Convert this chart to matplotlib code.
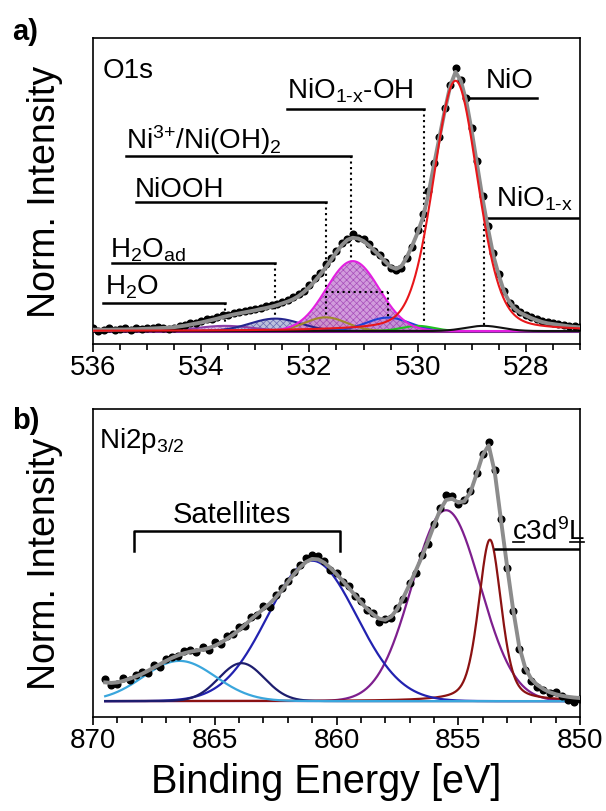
import numpy as np
import matplotlib
matplotlib.use('Agg')
import matplotlib.pyplot as plt
from matplotlib.ticker import MultipleLocator

plt.rcParams['font.family'] = 'Liberation Sans'
plt.rcParams['mathtext.fontset'] = 'custom'
plt.rcParams['mathtext.rm'] = 'Liberation Sans'
plt.rcParams['mathtext.it'] = 'Liberation Sans'
plt.rcParams['mathtext.bf'] = 'Liberation Sans:bold'
plt.rcParams['mathtext.default'] = 'regular'
plt.rcParams['hatch.linewidth'] = 0.5

# ---------------- O1s (panel a) ----------------
o1s_start, o1s_step = 536.0, 0.1
o1s_data = [0.010, 0.000, 0.005, 0.010, 0.003, 0.008, 0.012, 0.005, 0.010, 0.008,
            0.013, 0.010, 0.015, 0.012, 0.008, 0.012, 0.020, 0.025, 0.030, 0.032,
            0.040, 0.045, 0.048, 0.055, 0.060, 0.062, 0.070, 0.072, 0.078, 0.083,
            0.085, 0.090, 0.095, 0.100, 0.105, 0.113, 0.120, 0.130, 0.142, 0.155,
            0.178, 0.205, 0.225, 0.260, 0.280, 0.310, 0.340, 0.355, 0.375, 0.360,
            0.355, 0.335, 0.310, 0.295, 0.265, 0.245, 0.235, 0.245, 0.280, 0.325,
            0.390, 0.450, 0.540, 0.650, 0.750, 0.860, 0.950, 1.015, 0.970, 0.900,
            0.785, 0.655, 0.520, 0.405, 0.300, 0.220, 0.155, 0.110, 0.090, 0.075,
            0.060, 0.055, 0.045, 0.040, 0.035, 0.030, 0.026, 0.022, 0.020, 0.018,
            0.015]
o1s_fit = [0.005, 0.005, 0.005, 0.005, 0.006, 0.006, 0.006, 0.007, 0.007, 0.008,
           0.009, 0.010, 0.011, 0.012, 0.013, 0.015, 0.018, 0.021, 0.025, 0.029,
           0.033, 0.038, 0.043, 0.048, 0.054, 0.059, 0.064, 0.068, 0.072, 0.076,
           0.080, 0.085, 0.089, 0.094, 0.100, 0.107, 0.114, 0.123, 0.135, 0.151,
           0.170, 0.193, 0.218, 0.245, 0.275, 0.305, 0.332, 0.352, 0.360, 0.357,
           0.347, 0.330, 0.310, 0.290, 0.268, 0.248, 0.240, 0.250, 0.285, 0.330,
           0.380, 0.440, 0.530, 0.640, 0.745, 0.850, 0.945, 1.000, 0.965, 0.885,
           0.770, 0.640, 0.510, 0.395, 0.290, 0.215, 0.150, 0.110, 0.085, 0.070,
           0.060, 0.050, 0.042, 0.035, 0.030, 0.027, 0.024, 0.021, 0.018, 0.016,
           0.014]
o1s_be = o1s_start - o1s_step * np.arange(len(o1s_data))

# fitted components: centre [eV], FWHM [eV], height, lorentzian fraction
o1s_names = ['H2O', 'H2Oad', 'NiOOH', 'Ni3+/Ni(OH)2', 'comp5305', 'NiO1-x-OH', 'NiO', 'NiO1-x']
o1s_center = [533.56, 532.63, 531.70, 531.20, 530.55, 530.00, 529.30, 528.78]
o1s_fwhm = [1.20, 1.10, 0.90, 1.15, 0.95, 0.70, 0.97, 0.80]
o1s_height = [0.020, 0.048, 0.053, 0.270, 0.052, 0.020, 0.966, 0.020]
o1s_eta = [0.0, 0.0, 0.0, 0.0, 0.0, 0.0, 0.25, 0.0]

# ---------------- Ni2p3/2 (panel b) ----------------
ni_start, ni_step = 869.5, 0.25
ni_data = [0.085, 0.062, 0.068, 0.090, 0.082, 0.100, 0.112, 0.110, 0.140, 0.135,
           0.165, 0.172, 0.178, 0.195, 0.200, 0.190, 0.210, 0.200, 0.230, 0.222,
           0.255, 0.262, 0.290, 0.295, 0.330, 0.335, 0.372, 0.368, 0.415, 0.440,
           0.470, 0.505, 0.530, 0.560, 0.570, 0.565, 0.545, 0.510, 0.500, 0.465,
           0.450, 0.410, 0.390, 0.355, 0.345, 0.310, 0.320, 0.325, 0.365, 0.400,
           0.460, 0.500, 0.570, 0.615, 0.690, 0.755, 0.805, 0.800, 0.770, 0.785,
           0.820, 0.890, 0.965, 1.010, 0.900, 0.710, 0.520, 0.350, 0.205, 0.120,
           0.080, 0.055, 0.045, 0.030, 0.035, 0.020, 0.005, -0.005, 0.010]
ni_fit = [0.073, 0.071, 0.073, 0.079, 0.087, 0.096, 0.106, 0.118, 0.131, 0.144,
          0.157, 0.169, 0.179, 0.187, 0.193, 0.197, 0.201, 0.207, 0.216, 0.228,
          0.243, 0.259, 0.277, 0.298, 0.320, 0.340, 0.360, 0.380, 0.404, 0.432,
          0.464, 0.495, 0.522, 0.543, 0.555, 0.553, 0.540, 0.520, 0.496, 0.470,
          0.443, 0.414, 0.386, 0.360, 0.339, 0.322, 0.317, 0.330, 0.360, 0.405,
          0.455, 0.508, 0.562, 0.622, 0.685, 0.745, 0.785, 0.790, 0.775, 0.780,
          0.815, 0.885, 0.960, 0.998, 0.893, 0.710, 0.530, 0.360, 0.215, 0.130,
          0.086, 0.063, 0.047, 0.035, 0.027, 0.021, 0.017, 0.014, 0.012]
ni_be = ni_start - ni_step * np.arange(len(ni_data))

ni_center = [855.50, 853.70, 861.00, 863.90, 866.45]
ni_fwhm = [3.30, 1.10, 4.30, 2.20, 3.50]
ni_height = [0.745, 0.630, 0.548, 0.148, 0.157]
ni_eta = [0.0, 0.4, 0.0, 0.0, 0.0]


def pv(e, c, w, h, eta):
    g = np.exp(-4 * np.log(2) * ((e - c) / w) ** 2)
    l = 1.0 / (1 + 4 * ((e - c) / w) ** 2)
    return h * ((1 - eta) * g + eta * l)


fig = plt.figure(figsize=(6.06, 8.12), dpi=100)
ax1 = fig.add_axes([93 / 606, 1 - 345 / 812, 487 / 606, 306 / 812])
ax2 = fig.add_axes([93 / 606, 1 - 718 / 812, 487 / 606, 308 / 812])

# ---- panel a ----
e1 = np.linspace(536, 527, 900)
line_cols = ['#8a3fa8', '#25258f', '#a08a2a', '#e21fe0', '#2040d8', '#22c022', '#e8161a', '#111111']
fill_cols = ['#d7b4de', '#b0b6d6', '#d6cf78', '#c98ad6', '#93bccb', '#7ae07a', None, None]
hatch_cols = ['#9a60b8', '#5a5aa8', '#a09030', '#a040b4', '#4a70a0', '#30b030', None, None]
order = [0, 1, 2, 4, 5, 3, 7, 6]
for i in order:
    y = pv(e1, o1s_center[i], o1s_fwhm[i], o1s_height[i], o1s_eta[i])
    if fill_cols[i] is not None:
        ax1.fill_between(e1, 0, y, facecolor=fill_cols[i], edgecolor=hatch_cols[i],
                         hatch='xxxxx', linewidth=0, alpha=0.85, zorder=2)
    ax1.plot(e1, y, color=line_cols[i], lw=1.5, zorder=3 if i != 6 else 6)
ax1.plot([536, 527], [0, 0], color='#8a1a9a', lw=2.2, zorder=2.5)

ax1.plot(o1s_be, o1s_data, 'o', color='black', ms=4.8, zorder=4)
ax1.plot(o1s_be, o1s_fit, color='#8c8c8c', lw=2.8, zorder=5)

hy = '\u2010'
lab_kw = dict(fontsize=20, ha='left', va='baseline')
ax1.text(535.83, 0.98, 'O1s', **lab_kw)
ax1.text(528.74, 0.942, 'NiO', **lab_kw)
ax1.plot([529.1, 527.8], [0.90, 0.90], color='black', lw=1.8)
ax1.text(528.56, 0.483, 'NiO$_{1' + hy + 'x}$', **lab_kw)
ax1.plot([528.7, 527.04], [0.436, 0.436], color='black', lw=1.8)
ax1.plot([528.78, 528.78], [0.436, 0.02], color='black', lw=1.5, ls=':')
ax1.text(532.41, 0.903, 'NiO$_{1' + hy + 'x}$-OH', **lab_kw)
ax1.plot([532.41, 529.89], [0.857, 0.857], color='black', lw=1.8)
ax1.plot([529.89, 529.89], [0.857, 0.03], color='black', lw=1.5, ls=':')
ax1.text(535.39, 0.707, 'Ni$^{3{+}}$/Ni(OH)$_2$', **lab_kw)
ax1.plot([535.39, 531.24], [0.676, 0.676], color='black', lw=1.8)
ax1.plot([531.24, 531.24], [0.676, 0.27], color='black', lw=1.5, ls=':')
ax1.text(535.22, 0.521, 'NiOOH', **lab_kw)
ax1.plot([535.2, 531.7], [0.498, 0.498], color='black', lw=1.8)
ax1.plot([531.7, 531.7], [0.498, 0.053], color='black', lw=1.5, ls=':')
ax1.text(535.69, 0.286, 'H$_2$O$_{ad}$', **lab_kw)
ax1.plot([535.65, 532.63], [0.261, 0.261], color='black', lw=1.8)
ax1.plot([532.63, 532.63], [0.261, 0.047], color='black', lw=1.5, ls=':')
ax1.text(535.78, 0.143, 'H$_2$O', **lab_kw)
ax1.plot([535.81, 533.56], [0.108, 0.108], color='black', lw=1.8)
ax1.plot([533.56, 533.56], [0.108, 0.02], color='black', lw=1.5, ls=':')
ax1.plot([531.7, 530.55], [0.15, 0.15], color='black', lw=1.5, ls=':', zorder=6)
ax1.plot([530.55, 530.55], [0.15, 0.052], color='black', lw=1.5, ls=':', zorder=6)

ax1.set_xlim(536, 527)
ax1.set_ylim(-0.05, 1.131)
ax1.xaxis.set_major_locator(MultipleLocator(2))
ax1.xaxis.set_minor_locator(MultipleLocator(0.5))

# ---- panel b ----
e2 = np.linspace(869.5, 850, 900)
ni_cols = ['#7e1f8e', '#8b1212', '#2222b0', '#1d1d6e', '#3aa6dc']
for i in range(len(ni_center)):
    ax2.plot(e2, pv(e2, ni_center[i], ni_fwhm[i], ni_height[i], ni_eta[i]),
             color=ni_cols[i], lw=1.6, zorder=3)
ax2.plot(ni_be, ni_data, 'o', color='black', ms=4.8, zorder=4)
ax2.plot(ni_be, ni_fit, color='#8c8c8c', lw=2.8, zorder=5)

ax2.text(869.75, 0.992, 'Ni2p$_{3/2}$', **lab_kw)
ax2.text(864.3, 0.70, 'Satellites', fontsize=21, ha='center', va='baseline')
ax2.plot([868.3, 868.3, 859.86, 859.86], [0.587, 0.665, 0.665, 0.587], color='black', lw=1.8)
ctext = ax2.text(852.81, 0.632, 'c3d$^9$L', **lab_kw)
ax2.plot([853.5, 850.05], [0.594, 0.594], color='black', lw=1.8, zorder=6)

ax2.set_xlim(870, 850)
ax2.set_ylim(-0.062, 1.14)
ax2.xaxis.set_major_locator(MultipleLocator(5))
ax2.xaxis.set_minor_locator(MultipleLocator(1))

for ax in (ax1, ax2):
    ax.set_yticks([])
    for s in ax.spines.values():
        s.set_linewidth(1.2)
    ax.tick_params(axis='x', which='major', direction='out', length=6, width=1.2,
                   pad=1, labelsize=20)
    ax.tick_params(axis='x', which='minor', direction='out', length=4.5, width=1.2)
    ax.set_ylabel('Norm. Intensity', fontsize=27)
    ax.yaxis.set_label_coords(-0.062, 0.5)

ax2.set_xlabel('Binding Energy [eV]', fontsize=28.5)
ax2.xaxis.set_label_coords(0.478, -0.146)

fig.text(12 / 606, 1 - 32 / 812, 'a)', fontsize=21, fontweight='bold', va='center', ha='left')
fig.text(12 / 606, 1 - 421 / 812, 'b)', fontsize=21, fontweight='bold', va='center', ha='left')

# underline the c and L of c3d9L
fig.canvas.draw()
r = fig.canvas.get_renderer()
bb = ctext.get_window_extent(r)
tmp = ax2.text(0, 0, 'c', fontsize=20)
wc = tmp.get_window_extent(r).width
tmp.remove()
tmp = ax2.text(0, 0, 'L', fontsize=20)
wl = tmp.get_window_extent(r).width
tmp.remove()
base = ax2.transData.transform((852.81, 0.632))[1] - 3
inv = fig.transFigure.inverted()
for x0, x1 in [(bb.x0 + 1, bb.x0 + wc - 1), (bb.x1 - wl + 1, bb.x1 - 1)]:
    p0 = inv.transform((x0, base))
    p1 = inv.transform((x1, base))
    fig.add_artist(plt.Line2D([p0[0], p1[0]], [p0[1], p1[1]], color='black', lw=1.2))

fig.savefig('out.png', dpi=100)
